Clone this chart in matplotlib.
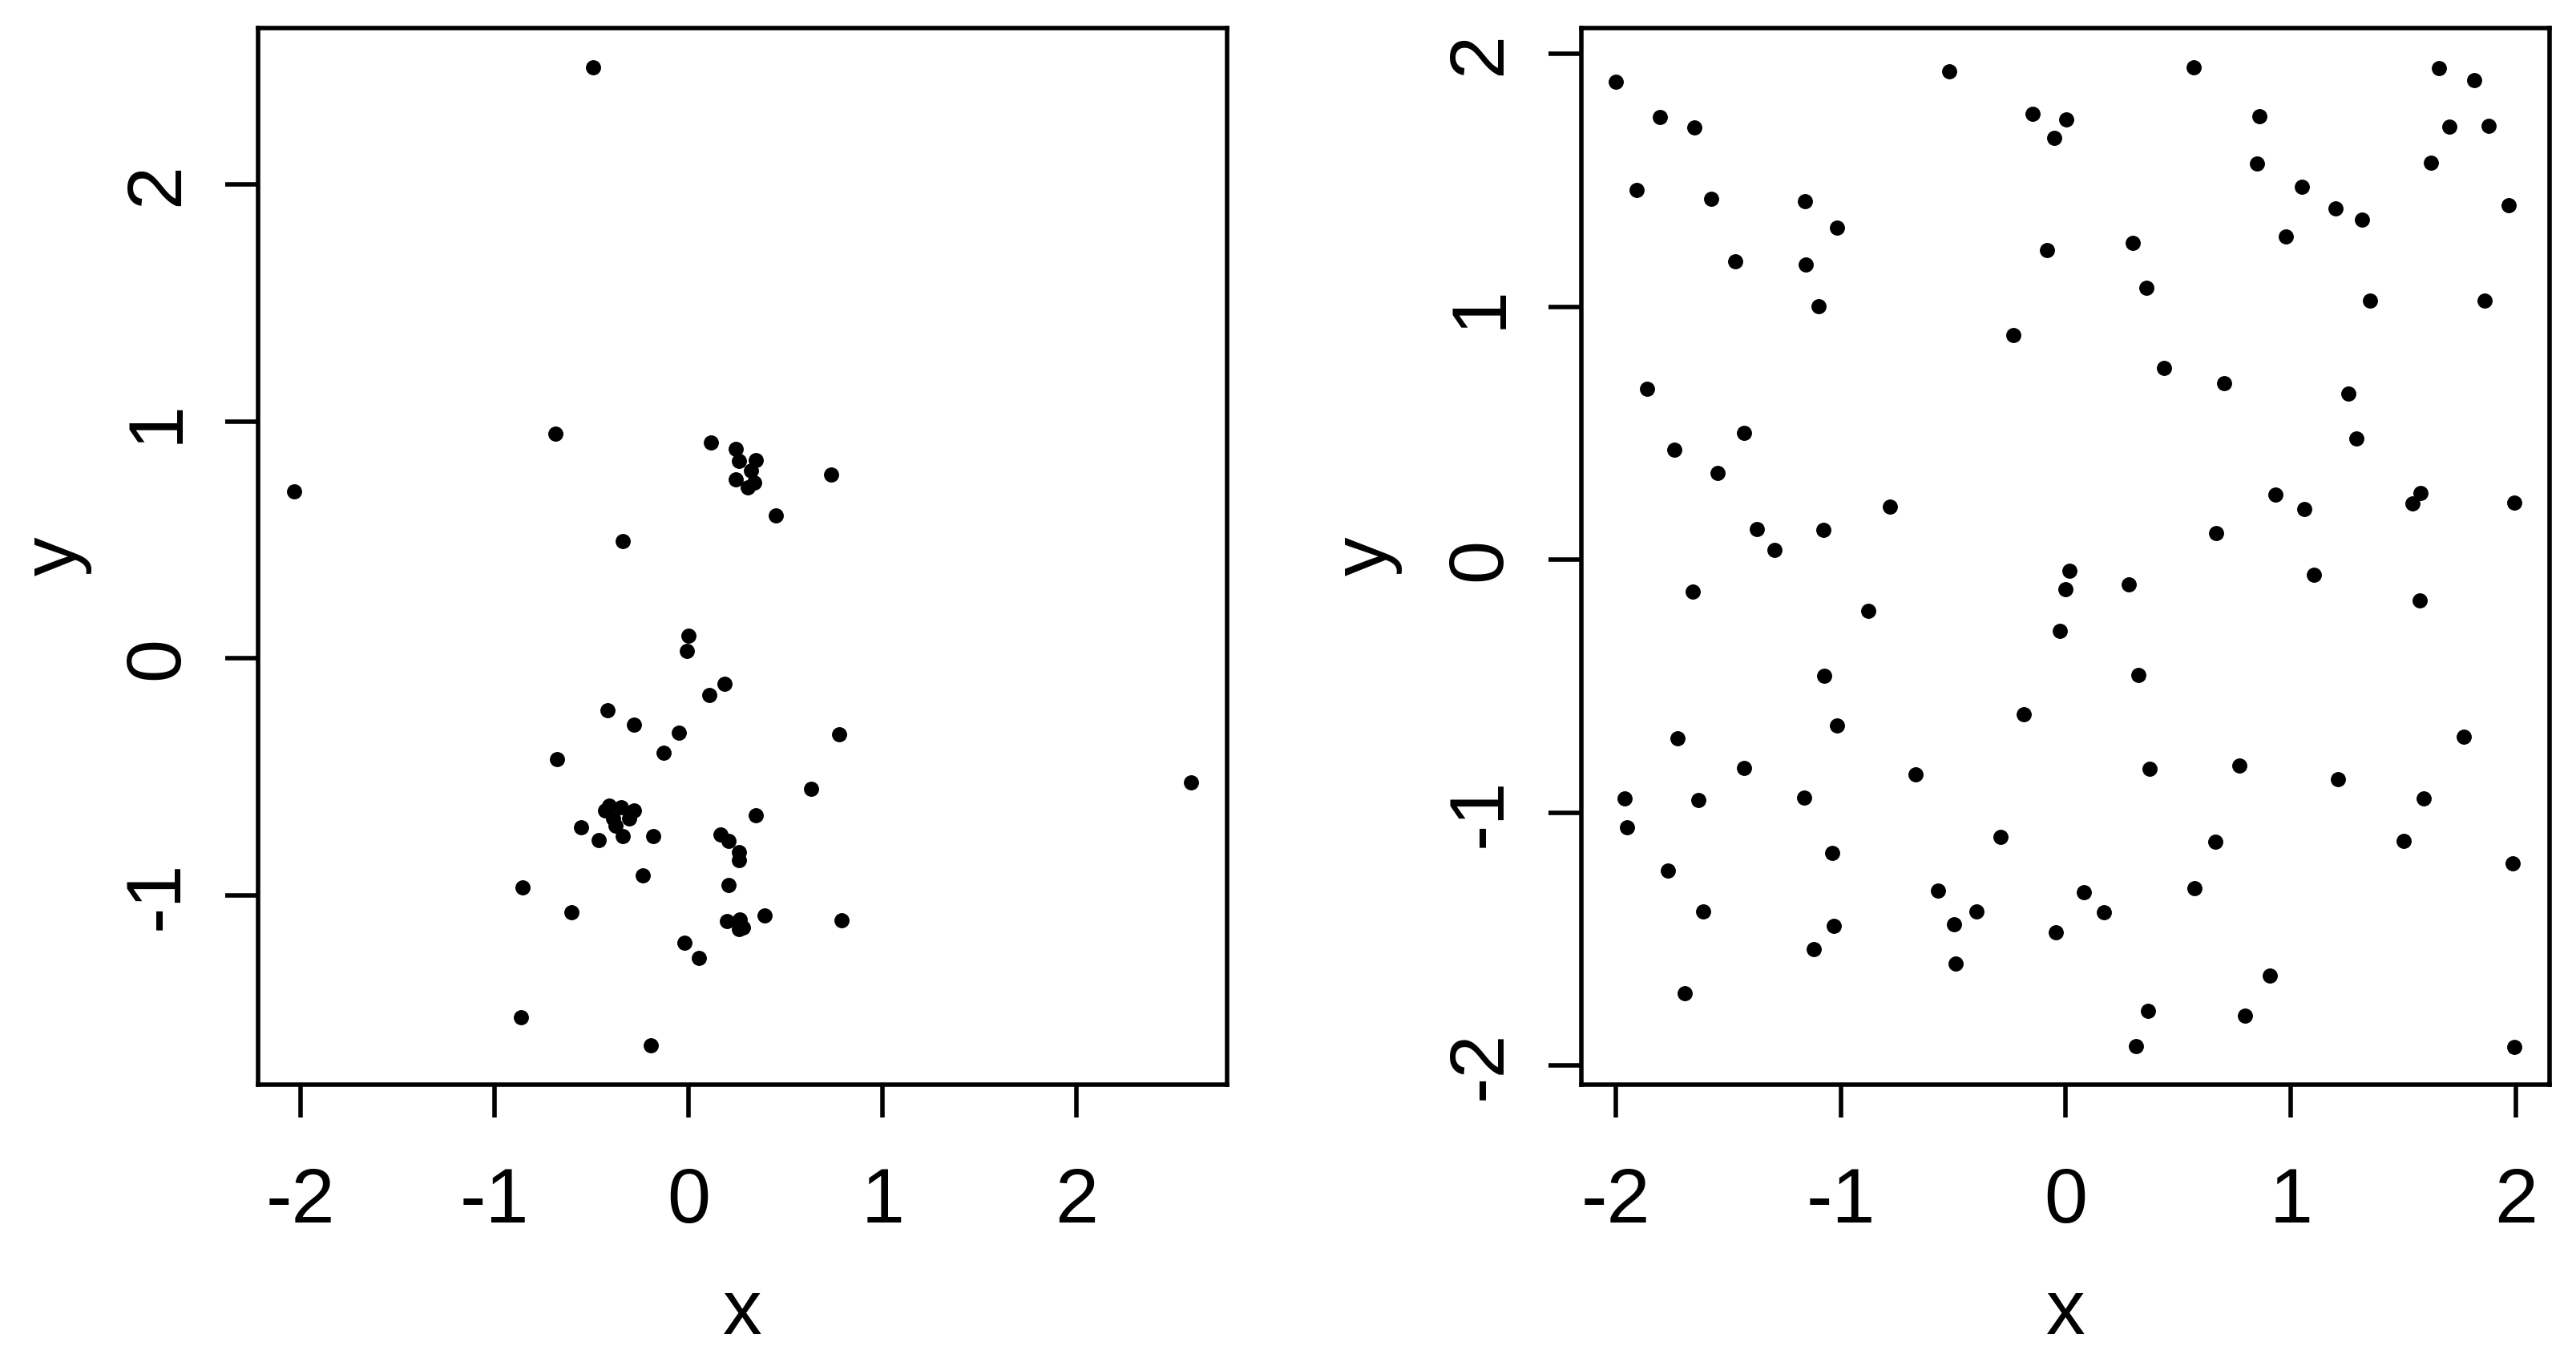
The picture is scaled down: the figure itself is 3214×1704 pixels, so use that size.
import matplotlib
matplotlib.use('Agg')
import matplotlib.pyplot as plt

plt.rcParams['font.family'] = ['Liberation Sans', 'DejaVu Sans']

# left panel: clustered points
left_x = [-0.492, -2.03, -0.687, 0.114, 0.735, 0.451, -0.340,
          0.244, 0.258, 0.348, 0.321, 0.244, 0.306, 0.340,
          -0.001, -0.009, 0.185, 0.109, -0.416, -0.280, -0.052, 0.777,
          -0.128, -0.678, 0.633, 0.346,
          -0.409, -0.347, -0.282, -0.430, -0.389, -0.375, -0.307,
          -0.552, -0.464, -0.338, -0.182, -0.235, 0.165, 0.207, 0.206,
          0.261, 0.261, 0.199, 0.263, 0.259, 0.282, 0.393, 0.789, -0.021, 0.052,
          -0.856, -0.602, -0.864, -0.196, 2.588]
left_y = [2.495, 0.706, 0.949, 0.913, 0.776, 0.603, 0.497,
          0.885, 0.834, 0.837, 0.792, 0.755, 0.721, 0.744,
          0.095, 0.033, -0.106, -0.154, -0.217, -0.279, -0.314, -0.321,
          -0.397, -0.425, -0.550, -0.661,
          -0.620, -0.629, -0.643, -0.640, -0.674, -0.706, -0.674,
          -0.714, -0.768, -0.751, -0.749, -0.917, -0.743, -0.771, -0.957,
          -0.819, -0.852, -1.110, -1.103, -1.143, -1.137, -1.084, -1.106, -1.200, -1.264,
          -0.966, -1.070, -1.514, -1.632, -0.522]

# right panel: spread points
right_x = [-1.998, -1.802, -1.649, -0.519, -0.146, 0.002, -0.053, -1.906,
           -1.575, -1.158, -1.016, -0.082, -1.468, -1.155, -1.098, -0.234,
           -1.862, -1.431, -1.738, -1.548, -0.782, -1.374, -1.077, -1.294,
           0.569, 1.658, 1.815, 0.862, 1.703, 1.879, 0.851, 1.623, 1.048,
           1.199, 1.317, 1.969, 0.296, 0.978, 0.359, 1.352, 1.860, 0.437,
           0.702, 1.254, 1.292, 0.932, 1.061, 1.577, 1.542, 1.994, 0.667,
           -1.656, -0.879, 0.018, 0.000, -0.026, -1.073, -0.188, -1.018,
           -1.725, -1.431, -0.669, -1.961, -1.634, -1.164, -1.950, -1.036,
           -0.289, -1.766, -0.566, -0.398, -0.496, -0.045, -1.611, -1.029,
           -1.118, -0.491, -1.694,
           0.280, 1.104, 1.571, 0.323, 1.770, 0.373, 0.770, 1.208, 1.590,
           0.663, 1.500, 1.986, 0.082, 0.169, 0.571, 0.907, 0.364, 0.798,
           0.313, 1.994]
right_y = [1.891, 1.749, 1.709, 1.931, 1.762, 1.740, 1.669, 1.462,
           1.428, 1.416, 1.313, 1.225, 1.179, 1.167, 1.002, 0.888,
           0.677, 0.502, 0.435, 0.343, 0.210, 0.120, 0.118, 0.038,
           1.946, 1.944, 1.897, 1.754, 1.711, 1.714, 1.567, 1.569, 1.474,
           1.389, 1.346, 1.401, 1.252, 1.279, 1.074, 1.023, 1.024, 0.758,
           0.697, 0.656, 0.480, 0.256, 0.201, 0.265, 0.221, 0.225, 0.104,
           -0.125, -0.203, -0.045, -0.118, -0.282, -0.458, -0.612, -0.656,
           -0.707, -0.825, -0.849, -0.944, -0.949, -0.941, -1.057, -1.159,
           -1.096, -1.229, -1.308, -1.391, -1.440, -1.474, -1.390, -1.449,
           -1.539, -1.597, -1.715,
           -0.098, -0.061, -0.162, -0.456, -0.701, -0.828, -0.815, -0.869, -0.945,
           -1.116, -1.112, -1.201, -1.315, -1.395, -1.299, -1.644, -1.783, -1.803,
           -1.922, -1.928]

left_xticks = [-2, -1, 0, 1, 2]
left_yticks = [-1, 0, 1, 2]
right_xticks = [-2, -1, 0, 1, 2]
right_yticks = [-2, -1, 0, 1, 2]

W, H = 3214, 1704
fig = plt.figure(figsize=(W / 200, H / 200), dpi=200)


def make_panel(rect, xs, ys, xlim, ylim, xticks, yticks, xlab_x, ylab_x):
    ax = fig.add_axes(rect)
    ax.plot(xs, ys, 'o', color='black', markersize=6.8, markeredgewidth=0)
    ax.set_xlim(xlim)
    ax.set_ylim(ylim)
    ax.set_xticks(xticks)
    ax.set_yticks(yticks)
    ax.set_xticklabels([str(t) for t in xticks])
    ax.set_yticklabels([str(t) for t in yticks])
    for s in ax.spines.values():
        s.set_linewidth(2.0)
        s.set_color('black')
    ax.tick_params(direction='out', length=14.8, width=2.0, labelsize=35)
    ax.tick_params(axis='x', pad=22)
    ax.tick_params(axis='y', pad=14)
    for lab in ax.get_yticklabels():
        lab.set_rotation(90)
        lab.set_va('center')
    cx = rect[0] + rect[2] / 2
    fig.text(cx, 1 - 1664 / H, 'x', ha='center', va='baseline', fontsize=35)
    fig.text(ylab_x / W, rect[1] + rect[3] / 2, 'y', ha='center', va='center',
             rotation=90, fontsize=35)
    return ax


bottom = 1 - 1353 / H
height = (1353 - 34.7) / H
make_panel([322 / W, bottom, (1531 - 322) / W, height], left_x, left_y,
           (-2.2176, 2.7742), (-1.799, 2.6623), left_xticks, left_yticks, None, 70)
make_panel([1972.6 / W, bottom, (3181 - 1972.6) / W, height], right_x, right_y,
           (-2.1538, 2.1496), (-2.0754, 2.1030), right_xticks, right_yticks, None, 1705)

fig.savefig('out.png', dpi=200, facecolor='white')
